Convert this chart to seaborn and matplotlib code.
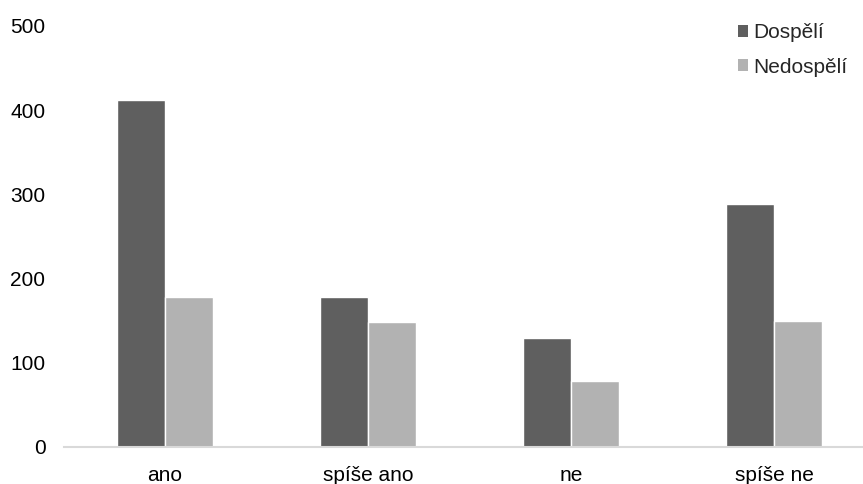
import pandas as pd
import matplotlib
matplotlib.use("Agg")
import matplotlib.pyplot as plt
import seaborn as sns
from matplotlib.patches import Patch

categories = ["ano", "spíše ano", "ne", "spíše ne"]
series = ["Dospělí", "Nedospělí"]
dospeli = [412, 178, 129, 289]
nedospeli = [178, 148, 78, 150]
colors = ["#5f5f5f", "#b2b2b2"]

df = pd.DataFrame({
    "kategorie": categories * 2,
    "skupina": [series[0]] * 4 + [series[1]] * 4,
    "pocet": dospeli + nedospeli,
})

sns.set_style("white")
plt.rcParams["font.family"] = ["Liberation Sans", "DejaVu Sans"]

fig = plt.figure(figsize=(8.63, 4.84), dpi=100)
# axes spans a bit past the right edge like the original
ax = fig.add_axes([63.5 / 863, 37 / 484, 812 / 863, 421 / 484])

sns.barplot(data=df, x="kategorie", y="pocet", hue="skupina", palette=colors,
            width=0.473, ax=ax, legend=False, saturation=1)

ax.set_ylim(0, 500)
ax.set_xlim(-0.5, 3.5)
ax.set_yticks([0, 100, 200, 300, 400, 500])
ax.set_xlabel("")
ax.set_ylabel("")
ax.tick_params(axis="both", length=0, labelsize=15, labelcolor="#000000")
ax.tick_params(axis="y", pad=13)
ax.tick_params(axis="x", pad=14)
for s in ["top", "right", "left"]:
    ax.spines[s].set_visible(False)
ax.spines["bottom"].set_color("#d9d9d9")
ax.spines["bottom"].set_linewidth(1.5)

handles = [Patch(facecolor=c, edgecolor="none") for c in colors]
fig.legend(handles, series, loc="upper left", bbox_to_anchor=(738 / 863, 1 - 23 / 484),
           frameon=False, fontsize=15, handlelength=0.5, handleheight=0.5,
           handletextpad=0.25, labelspacing=0.75, borderpad=0, borderaxespad=0)

fig.savefig("out.png", dpi=100)
